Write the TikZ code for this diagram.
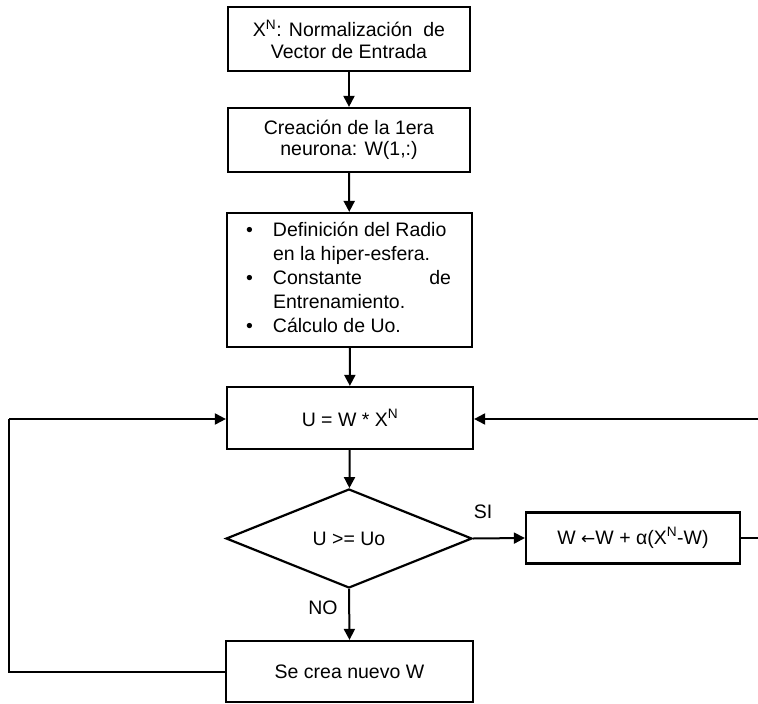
\documentclass[tikz,border=0pt]{standalone}
\usepackage{fontspec}
\setmainfont{Liberation Sans}
\newfontfamily\symfnt{DejaVu Sans}
\usetikzlibrary{shapes.geometric,arrows.meta}
\begin{document}
\begin{tikzpicture}[x=1pt,y=-1pt,
  every node/.style={font=\fontsize{19.5}{21.5}\selectfont},
  box/.style={draw,line width=2.2pt,rectangle,inner sep=0pt,align=center},
  decision/.style={draw,line width=2.2pt,diamond,inner sep=0pt,shape aspect=2.4},
  lbl/.style={inner sep=0pt},
  conn/.style={line width=2pt,-{Triangle[length=11pt,width=11pt]}},
  plain/.style={line width=2pt}]
\useasboundingbox (0,0) rectangle (758,704);
\node[box,minimum width=242pt,minimum height=64pt] (b1) at (349,39)
  {X\textsuperscript{N}: Normalización\ \ de\\Vector de Entrada};
\node[box,minimum width=242pt,minimum height=64pt] (b2) at (349,140)
  {Creación de la 1era\\neurona: W(1,:)};
\node[box,minimum width=245pt,minimum height=134pt] (b3) at (349.5,280)
  {\renewcommand{\arraystretch}{1.12}%
   \begin{tabular}{@{}p{27pt}@{}p{180pt}@{}}
   \textbullet & Definición del Radio\\
    & en la hiper-esfera.\\
   \textbullet & \makebox[178pt][s]{Constante\hfill de}\\
    & Entrenamiento.\\
   \textbullet & Cálculo de Uo.
   \end{tabular}};
\node[box,minimum width=246pt,minimum height=62pt] (bu) at (350,418)
  {U = W * X\textsuperscript{N}};
\node[decision,minimum width=246pt,minimum height=99pt] (d) at (349,538.5)
  {U >= Uo};
\node[box,minimum width=214pt,minimum height=51pt] (bw) at (633,538)
  {W {\symfnt\fontsize{17}{19}\selectfont ←}W + α(X\textsuperscript{N}-W)};
\node[box,minimum width=247pt,minimum height=61pt] (bn) at (349.5,671.5)
  {Se crea nuevo W};
\node[lbl] (si) at (483,512) {SI};
\node[lbl] (no) at (323,608) {NO};
\coordinate (r1) at (760,538);
\coordinate (r2) at (760,419);
\coordinate (l1) at (9,672);
\coordinate (l2) at (9,419);
\draw[conn] (b1) -- (b2);
\draw[conn] (b2) -- (b3);
\draw[conn] (b3) -- (bu);
\draw[conn] (bu) -- (d);
\draw[conn] (d.east) -- (bw.west);
\draw[conn] (d.south) -- (bn.north);
\draw[plain] (bw.east) -- (r1) -- (r2);
\draw[conn] (r2) -- (bu.east |- r2);
\draw[plain] (bn.west |- l1) -- (l1) -- (l2);
\draw[conn] (l2) -- (bu.west |- l2);
\end{tikzpicture}
\end{document}
